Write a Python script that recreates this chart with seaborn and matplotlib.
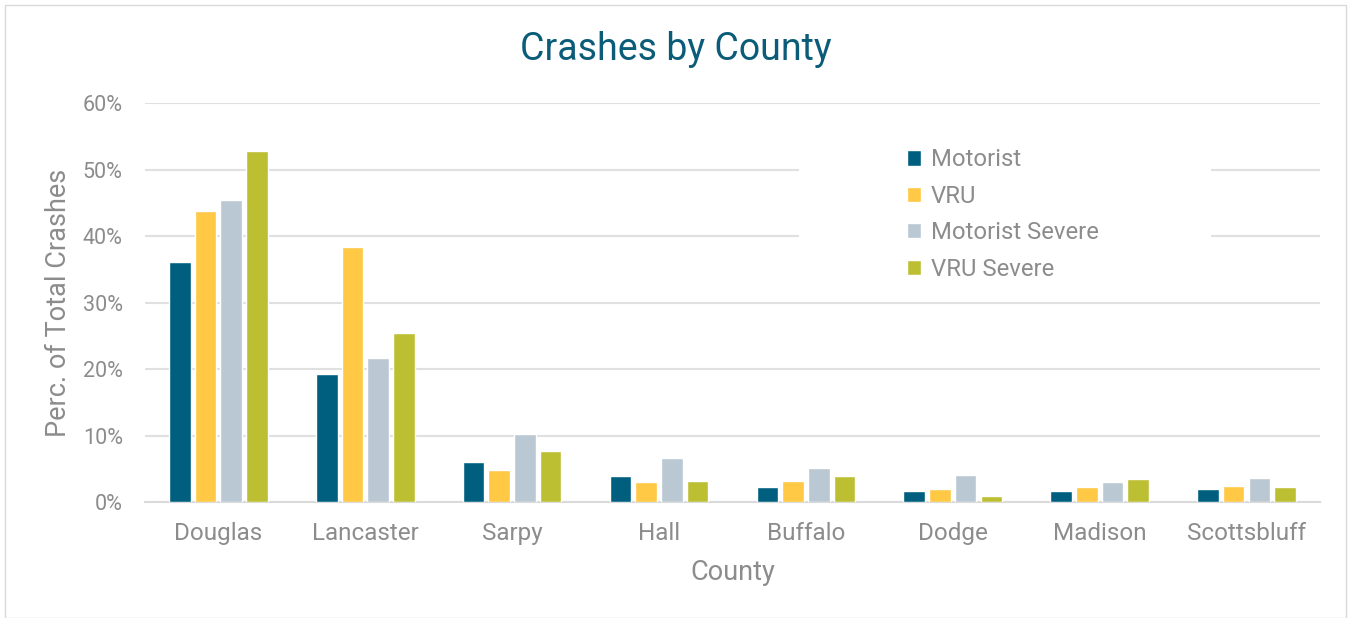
import matplotlib
matplotlib.use("Agg")
import matplotlib.pyplot as plt
from matplotlib.patches import Rectangle
from matplotlib.ticker import FuncFormatter
import seaborn as sns
import pandas as pd

counties = ["Douglas", "Lancaster", "Sarpy", "Hall", "Buffalo", "Dodge", "Madison", "Scottsbluff"]
motorist = [36.1, 19.3, 6.0, 3.9, 2.2, 1.7, 1.7, 1.9]
vru = [43.8, 38.3, 4.8, 3.0, 3.1, 2.0, 2.2, 2.4]
motorist_severe = [45.4, 21.6, 10.2, 6.6, 5.1, 4.1, 3.0, 3.6]
vru_severe = [52.8, 25.4, 7.7, 3.2, 3.9, 0.9, 3.5, 2.2]
series = ["Motorist", "VRU", "Motorist Severe", "VRU Severe"]
colors = ["#005F7F", "#FFC845", "#BAC8D3", "#BDBF33"]

rows = []
for name, vals in zip(series, [motorist, vru, motorist_severe, vru_severe]):
    for c, v in zip(counties, vals):
        rows.append({"County": c, "Type": name, "Pct": v})
df = pd.DataFrame(rows)

sns.set_theme(style="white")
plt.rcParams["font.family"] = ["Roboto", "DejaVu Sans"]

grey = "#8C8C8C"
fig = plt.figure(figsize=(13.51, 6.18), dpi=100)
ax = fig.add_axes([0.1073, 0.1877, 0.8697, 0.6456])

sns.barplot(data=df, x="County", y="Pct", hue="Type", hue_order=series,
            palette=colors, width=0.7, gap=0.16, saturation=1, ax=ax, zorder=3)

ax.set_ylim(0, 60)
ax.set_yticks(range(0, 61, 10))
ax.yaxis.set_major_formatter(FuncFormatter(lambda v, p: f"{v:.0f}%"))
ax.grid(axis="y", color="#E0E0E0", linewidth=1.5, zorder=0)
ax.set_axisbelow(True)
for s in ["top", "right", "left"]:
    ax.spines[s].set_visible(False)
ax.spines["bottom"].set_color("#DADADA")
ax.spines["bottom"].set_linewidth(1.5)
ax.tick_params(axis="x", length=0, labelsize=17.5, labelcolor=grey, pad=14.5)
ax.tick_params(axis="y", length=0, labelsize=15.5, labelcolor=grey, pad=16)
ax.set_xlim(-0.5, len(counties) - 0.5)

ax.set_xlabel("County", fontsize=19.5, color=grey, labelpad=10)
ax.set_ylabel("Perc. of Total Crashes", fontsize=19.5, color=grey, labelpad=8)
fig.suptitle("Crashes by County", fontsize=27, color="#0A5C78", y=0.95)

# white area behind legend, as in the original
ax.add_patch(Rectangle((0.557, 0.55), 0.35, 0.37, transform=ax.transAxes,
                       facecolor="white", edgecolor="none", zorder=1))
leg = ax.legend(loc="upper left", bbox_to_anchor=(0.63, 0.94), frameon=False,
                fontsize=17.2, handlelength=0.6, handleheight=0.6,
                handletextpad=0.4, labelspacing=0.56)
for t in leg.get_texts():
    t.set_color(grey)

fig.patches.append(Rectangle((0.004, 0.0), 0.992, 0.992, transform=fig.transFigure,
                             fill=False, edgecolor="#D9D9D9", linewidth=1))

fig.savefig("out.png", dpi=100)
